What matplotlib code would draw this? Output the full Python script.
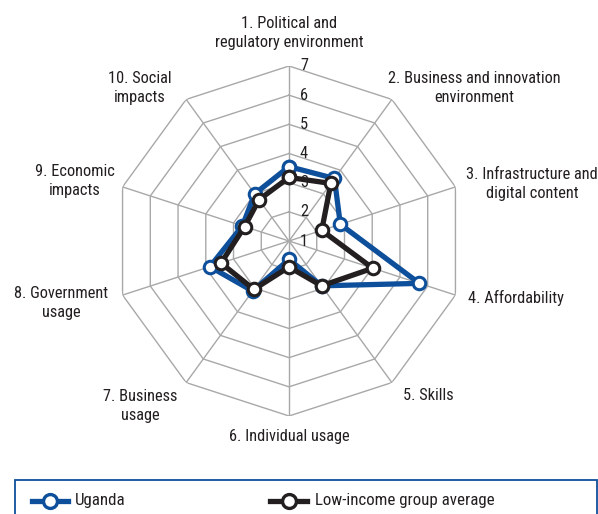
import numpy as np
import matplotlib
matplotlib.use("Agg")
import matplotlib.pyplot as plt
import matplotlib.transforms as mtrans
from matplotlib.lines import Line2D
from matplotlib.patches import Rectangle
from matplotlib import font_manager

categories = [
    "1. Political and\nregulatory environment",
    "2. Business and innovation\nenvironment",
    "3. Infrastructure and\ndigital content",
    "4. Affordability",
    "5. Skills",
    "6. Individual usage",
    "7. Business\nusage",
    "8. Government\nusage",
    "9. Economic\nimpacts",
    "10. Social\nimpacts",
]
uganda = [3.55, 3.65, 2.85, 5.7, 2.9, 1.63, 3.12, 3.85, 2.68, 3.0]
low_income = [3.18, 3.44, 2.18, 4.02, 2.9, 1.89, 3.05, 3.45, 2.6, 2.75]
series_names = ["Uganda", "Low-income group average"]
r_ticks = [1, 2, 3, 4, 5, 6, 7]

avail = {f.name for f in font_manager.fontManager.ttflist}
candidates = ["Roboto Condensed", "Archivo Narrow", "PT Sans Narrow", "Liberation Sans Narrow",
              "Fira Sans Condensed", "IBM Plex Sans Condensed", "Encode Sans Condensed",
              "Open Sans Condensed", "Barlow Semi Condensed", "Liberation Sans"]
chosen = next((c for c in candidates if c in avail), "DejaVu Sans")
plt.rcParams["font.family"] = [chosen, "DejaVu Sans"]

BLUE = "#0d4f9a"
BLACK = "#231f20"
GRID = "#a8a8a8"
TXT = "#231f20"
FS = 11.8

W, H = 598, 514
fig = plt.figure(figsize=(W / 100, H / 100), dpi=100)
cx, cy, R = 289, 241, 175
ax = fig.add_axes([(cx - R) / W, (H - cy - R) / H, 2 * R / W, 2 * R / H], projection="polar")
ax.set_theta_offset(np.pi / 2)
ax.set_theta_direction(-1)
ax.set_ylim(r_ticks[0], r_ticks[-1])
ax.grid(False)
ax.spines["polar"].set_visible(False)
ax.set_xticks([])
ax.set_yticks([])
ax.patch.set_alpha(0)

n = len(categories)
theta = np.arange(n) * 2 * np.pi / n
theta_c = np.append(theta, theta[0])

for rv in r_ticks[1:]:
    ax.plot(theta_c, [rv] * (n + 1), color=GRID, lw=1.0, zorder=1)
for t in theta:
    ax.plot([t, t], [r_ticks[0], r_ticks[-1]], color=GRID, lw=1.0, zorder=1)

off = mtrans.offset_copy(ax.transData, fig=fig, x=15, y=0, units="dots")
for rv in r_ticks:
    ax.text(0, rv, str(rv), transform=off, ha="center", va="center", fontsize=FS, color=TXT, zorder=2)

for vals, col in [(uganda, BLUE), (low_income, BLACK)]:
    v = np.append(vals, vals[0])
    ax.plot(theta_c, v, color=col, lw=3.8, marker="o", ms=9, mfc="white", mec=col, mew=2.2,
            zorder=3, clip_on=False, solid_joinstyle="miter")

label_pos = [(289, 33), (474, 88), (532, 184), (516, 298), (428, 396),
             (289, 436), (140, 406), (61, 303), (75, 181), (140, 88)]
for lab, (px, py) in zip(categories, label_pos):
    fig.text(px / W, 1 - py / H, lab, ha="center", va="center", fontsize=FS,
             color=TXT, linespacing=1.3)

# legend
fig.add_artist(Rectangle((15 / W, -0.05), (597 - 15) / W, 1 - 480 / H + 0.05,
                         transform=fig.transFigure, fill=False, ec=BLUE, lw=1.3))
ly = 1 - 500.5 / H
for (x0, x1, tx), name, col in [((32, 68, 75), series_names[0], BLUE),
                                ((270, 307, 315), series_names[1], BLACK)]:
    fig.add_artist(Line2D([x0 / W, x1 / W], [ly, ly], transform=fig.transFigure,
                          color=col, lw=3.8))
    fig.add_artist(Line2D([(x0 + x1) / 2 / W], [ly], transform=fig.transFigure,
                          marker="o", ms=10, mfc="white", mec=col, mew=2.4, lw=0))
    fig.text(tx / W, ly, name, ha="left", va="center", fontsize=12.2, color=TXT)

fig.savefig("out.png", dpi=100)
